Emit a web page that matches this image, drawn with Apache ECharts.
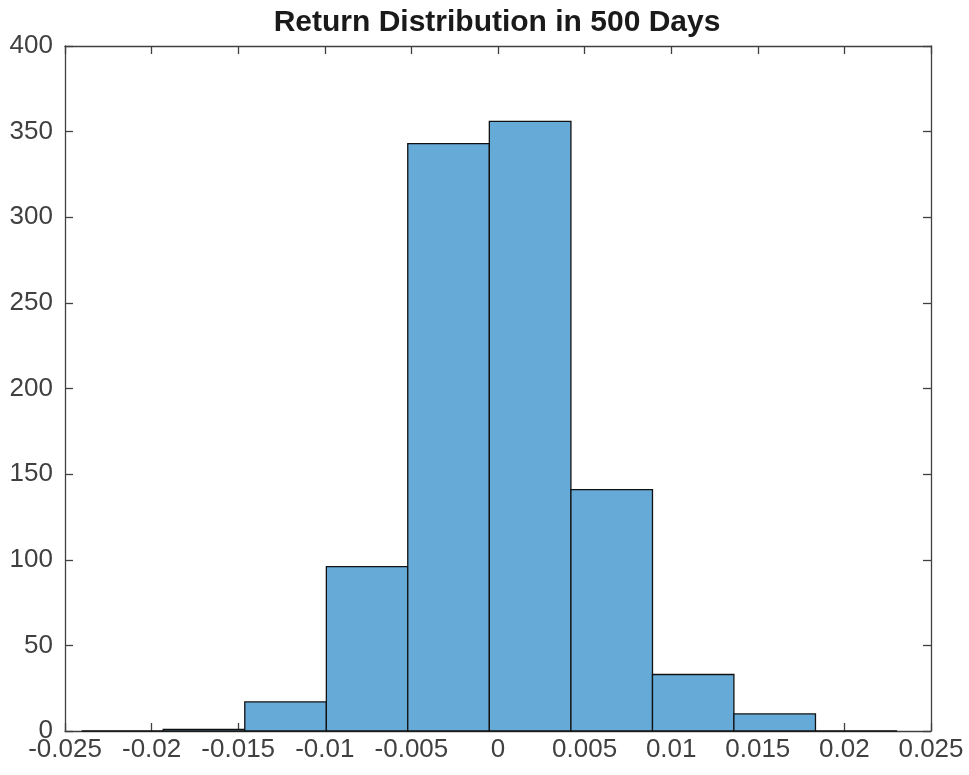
<!DOCTYPE html>
<html>
<head>
<meta charset="utf-8">
<script src="https://cdn.jsdelivr.net/npm/echarts@6/dist/echarts.min.js"></script>
<style>
html,body{margin:0;padding:0;background:#fff;}
#chart{width:969px;height:775px;}
</style>
</head>
<body>
<div id="chart"></div>
<script>
// Histogram bin edges (return values) and counts per bin
var binEdges = [-0.02404, -0.01933, -0.01462, -0.00991, -0.00521, -0.0005, 0.00421, 0.00892, 0.01362, 0.01833, 0.02304];
var counts = [0, 1, 17, 96, 343, 356, 141, 33, 10, 0];
var xTicks = [-0.025, -0.02, -0.015, -0.01, -0.005, 0, 0.005, 0.01, 0.015, 0.02, 0.025];
var yTicks = [0, 50, 100, 150, 200, 250, 300, 350, 400];
var titleText = 'Return Distribution in 500 Days';

var data = counts.map(function (c, i) { return [binEdges[i], binEdges[i + 1], c]; });

var axisColor = '#404040';
var labelColor = '#404040';
var fontFam = '"Liberation Sans", Arial, Helvetica, sans-serif';

function fmtX(v) {
  var r = Math.round(v * 1000) / 1000;
  if (Math.abs(r) < 1e-12) return '0';
  return String(parseFloat(v.toFixed(3)));
}

var chart = echarts.init(document.getElementById('chart'), null, {renderer: 'canvas'});
chart.setOption({
  animation: false,
  backgroundColor: '#ffffff',
  title: {
    text: titleText,
    left: 492,
    top: 3,
    textAlign: 'center',
    textStyle: {fontFamily: fontFam, fontSize: 30, fontWeight: 'bold', color: '#1a1a1a'}
  },
  grid: {left: 65, right: 38, top: 46, bottom: 44, containLabel: false},
  xAxis: [{
    type: 'value',
    min: xTicks[0], max: xTicks[xTicks.length - 1], interval: 0.005,
    axisLine: {show: true, onZero: false, lineStyle: {color: axisColor, width: 1.3}},
    axisTick: {show: true, inside: true, length: 8, lineStyle: {color: axisColor, width: 1.3}},
    axisLabel: {color: labelColor, fontFamily: fontFam, fontSize: 26, margin: 6, formatter: fmtX},
    splitLine: {show: false}
  }, {
    type: 'value', position: 'top',
    min: xTicks[0], max: xTicks[xTicks.length - 1], interval: 0.005,
    axisLine: {show: true, onZero: false, lineStyle: {color: axisColor, width: 1.3}},
    axisTick: {show: true, inside: true, length: 8, lineStyle: {color: axisColor, width: 1.3}},
    axisLabel: {show: false},
    splitLine: {show: false}
  }],
  yAxis: [{
    type: 'value',
    min: yTicks[0], max: yTicks[yTicks.length - 1], interval: 50,
    axisLine: {show: true, onZero: false, lineStyle: {color: axisColor, width: 1.3}},
    axisTick: {show: true, inside: true, length: 8, lineStyle: {color: axisColor, width: 1.3}},
    axisLabel: {color: labelColor, fontFamily: fontFam, fontSize: 26, margin: 12},
    splitLine: {show: false}
  }, {
    type: 'value', position: 'right',
    min: yTicks[0], max: yTicks[yTicks.length - 1], interval: 50,
    axisLine: {show: true, onZero: false, lineStyle: {color: axisColor, width: 1.3}},
    axisTick: {show: true, inside: true, length: 8, lineStyle: {color: axisColor, width: 1.3}},
    axisLabel: {show: false},
    splitLine: {show: false}
  }],
  series: [{
    type: 'custom',
    xAxisIndex: 0, yAxisIndex: 0,
    encode: {x: [0, 1], y: 2},
    data: data,
    z: 1,
    renderItem: function (params, api) {
      var p0 = api.coord([api.value(0), 0]);
      var p1 = api.coord([api.value(1), api.value(2)]);
      return {
        type: 'rect',
        shape: {x: p0[0], y: p1[1], width: p1[0] - p0[0], height: p0[1] - p1[1]},
        style: {fill: '#66aad7', stroke: '#111111', lineWidth: 1.3}
      };
    }
  }]
});
</script>
</body>
</html>
